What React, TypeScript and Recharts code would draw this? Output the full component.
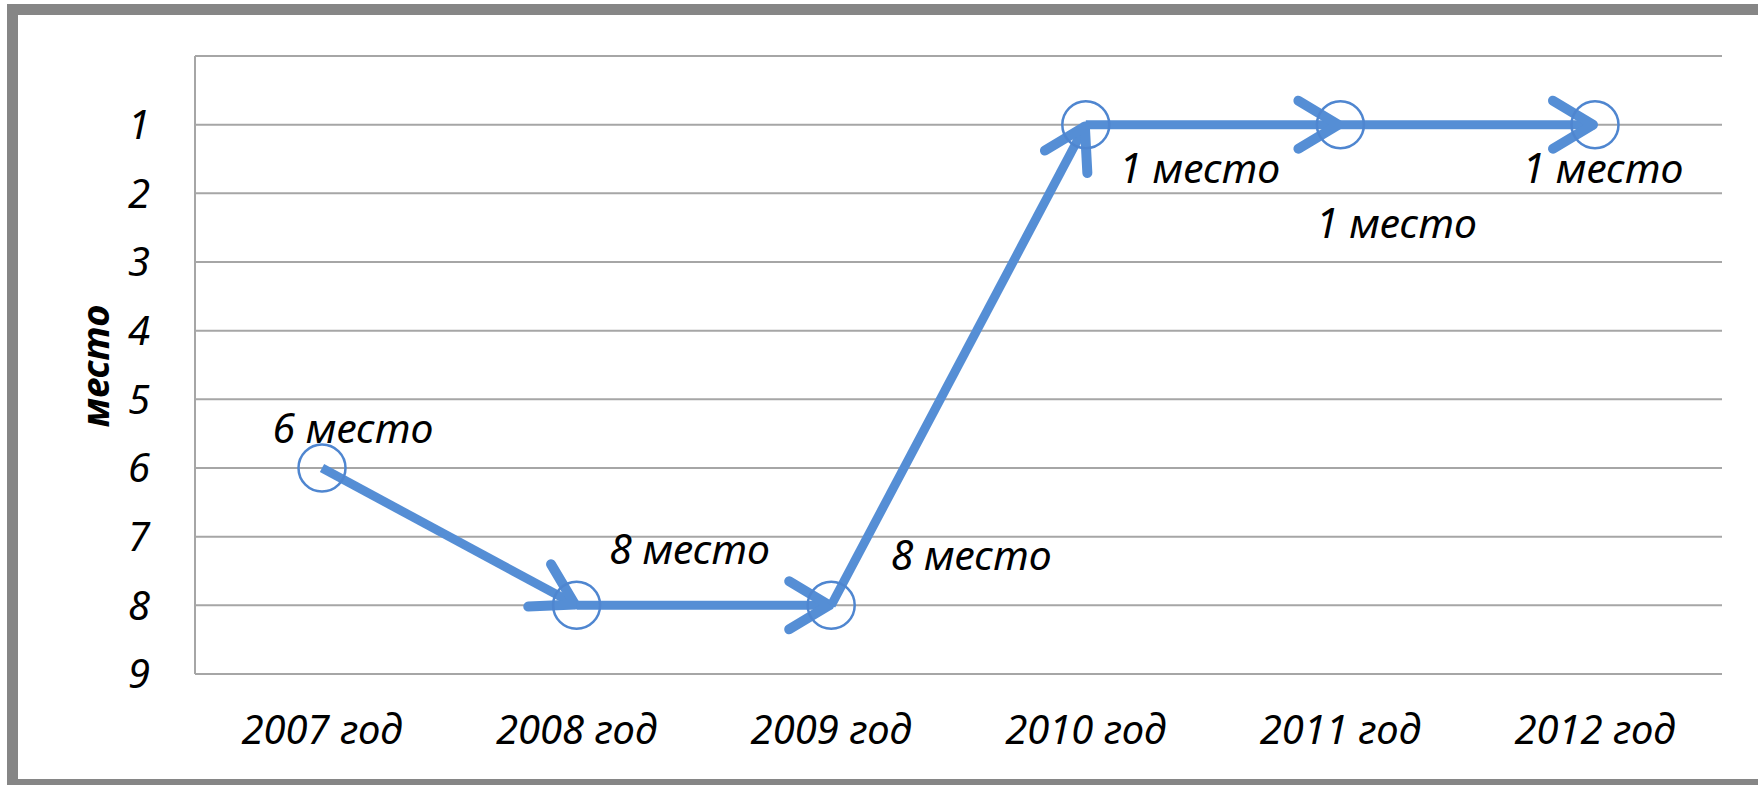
import { LineChart, Line, XAxis, YAxis, CartesianGrid } from 'recharts';

const years = ['2007 год', '2008 год', '2009 год', '2010 год', '2011 год', '2012 год'];
const places = [6, 8, 8, 1, 1, 1];
const yTicks = [0, 1, 2, 3, 4, 5, 6, 7, 8, 9];
const labelSuffix = ' место';
const axisTitle = 'место';

// ручные сдвиги подписей (как в исходной диаграмме)
const labelDx = [31, 113, 140, 114, 56, 8];
const labelDy = [-41, -57, -51, 42, 97, 42];

const FONT = "'Noto Sans', 'Open Sans', sans-serif";
const BLUE = '#558ed5';
const GRID = '#a6a6a6';
const FS = 40;

// каждый отрезок — отдельная серия, чтобы у каждого была своя стрелка
const segKeys = places.slice(1).map((_, i) => `s${i}`);
const data = years.map((year, i) => {
  const row: Record<string, any> = { year, place: places[i] };
  segKeys.forEach((k, s) => {
    row[k] = i === s || i === s + 1 ? places[i] : null;
  });
  return row;
});

const renderLabel = (props: any) => {
  const { x, y, index, value } = props;
  if (x == null || y == null) return null;
  return (
    <text
      x={x + labelDx[index]}
      y={y + labelDy[index]}
      textAnchor="middle"
      dominantBaseline="central"
      fontFamily={FONT}
      fontStyle="italic"
      fontSize={FS + 1}
      fill="#000"
    >
      {value + labelSuffix}
    </text>
  );
};

export default function App() {
  return (
    <div
      style={{
        position: 'fixed',
        left: 0,
        top: 0,
        width: 1758,
        height: 785,
        overflow: 'hidden',
        background: '#fff',
      }}
    >
      <div
        style={{
          position: 'absolute',
          left: 7,
          top: 4,
          width: 1820,
          height: 786,
          boxSizing: 'border-box',
          border: '11px solid #868686',
        }}
      />
      <div style={{ position: 'absolute', left: 0, top: 0 }}>
        <LineChart
          width={1758}
          height={785}
          data={data}
          margin={{ top: 56, right: 36, bottom: 0, left: 0 }}
        >
          <defs>
            <marker
              id="arrowHead"
              markerUnits="userSpaceOnUse"
              viewBox="-70 -40 80 80"
              markerWidth={80}
              markerHeight={80}
              refX={2}
              refY={0}
              orient="auto"
              overflow="visible"
            >
              <path
                d="M -40 -24 L 0 0 L -40 24"
                fill="none"
                stroke={BLUE}
                strokeWidth={10}
                strokeLinecap="round"
                strokeLinejoin="round"
              />
            </marker>
          </defs>
          <CartesianGrid vertical={false} stroke={GRID} strokeWidth={2} />
          <XAxis
            dataKey="year"
            height={111}
            padding={{ left: 127, right: 127 }}
            axisLine={{ stroke: GRID, strokeWidth: 2 }}
            tickLine={false}
            tickSize={0}
            tickMargin={42}
            tick={{ fontFamily: FONT, fontStyle: 'italic', fontSize: FS, fill: '#000' }}
          />
          <YAxis
            reversed
            domain={[0, 9]}
            ticks={yTicks}
            interval={0}
            width={195}
            axisLine={{ stroke: GRID, strokeWidth: 2 }}
            tickLine={false}
            tickSize={0}
            tickMargin={45}
            tickFormatter={(v) => (v === 0 ? '' : String(v))}
            tick={{ fontFamily: FONT, fontStyle: 'italic', fontSize: FS, fill: '#000' }}
            label={{
              content: () => (
                <text
                  x={94}
                  y={366}
                  transform="rotate(-90 94 366)"
                  textAnchor="middle"
                  dominantBaseline="central"
                  fontFamily={FONT}
                  fontStyle="italic"
                  fontWeight="bold"
                  fontSize={38}
                  fill="#000"
                >
                  {axisTitle}
                </text>
              ),
            }}
          />
          <Line
            dataKey="place"
            stroke="none"
            isAnimationActive={false}
            dot={{ r: 23.5, stroke: '#4f86d0', strokeWidth: 2.5, fill: 'none' }}
            activeDot={false}
            label={renderLabel}
          />
          {segKeys.map((k) => (
            <Line
              key={k}
              dataKey={k}
              stroke={BLUE}
              strokeWidth={9}
              type="linear"
              dot={false}
              activeDot={false}
              connectNulls={false}
              markerEnd="url(#arrowHead)"
              isAnimationActive={false}
            />
          ))}
        </LineChart>
      </div>
    </div>
  );
}
